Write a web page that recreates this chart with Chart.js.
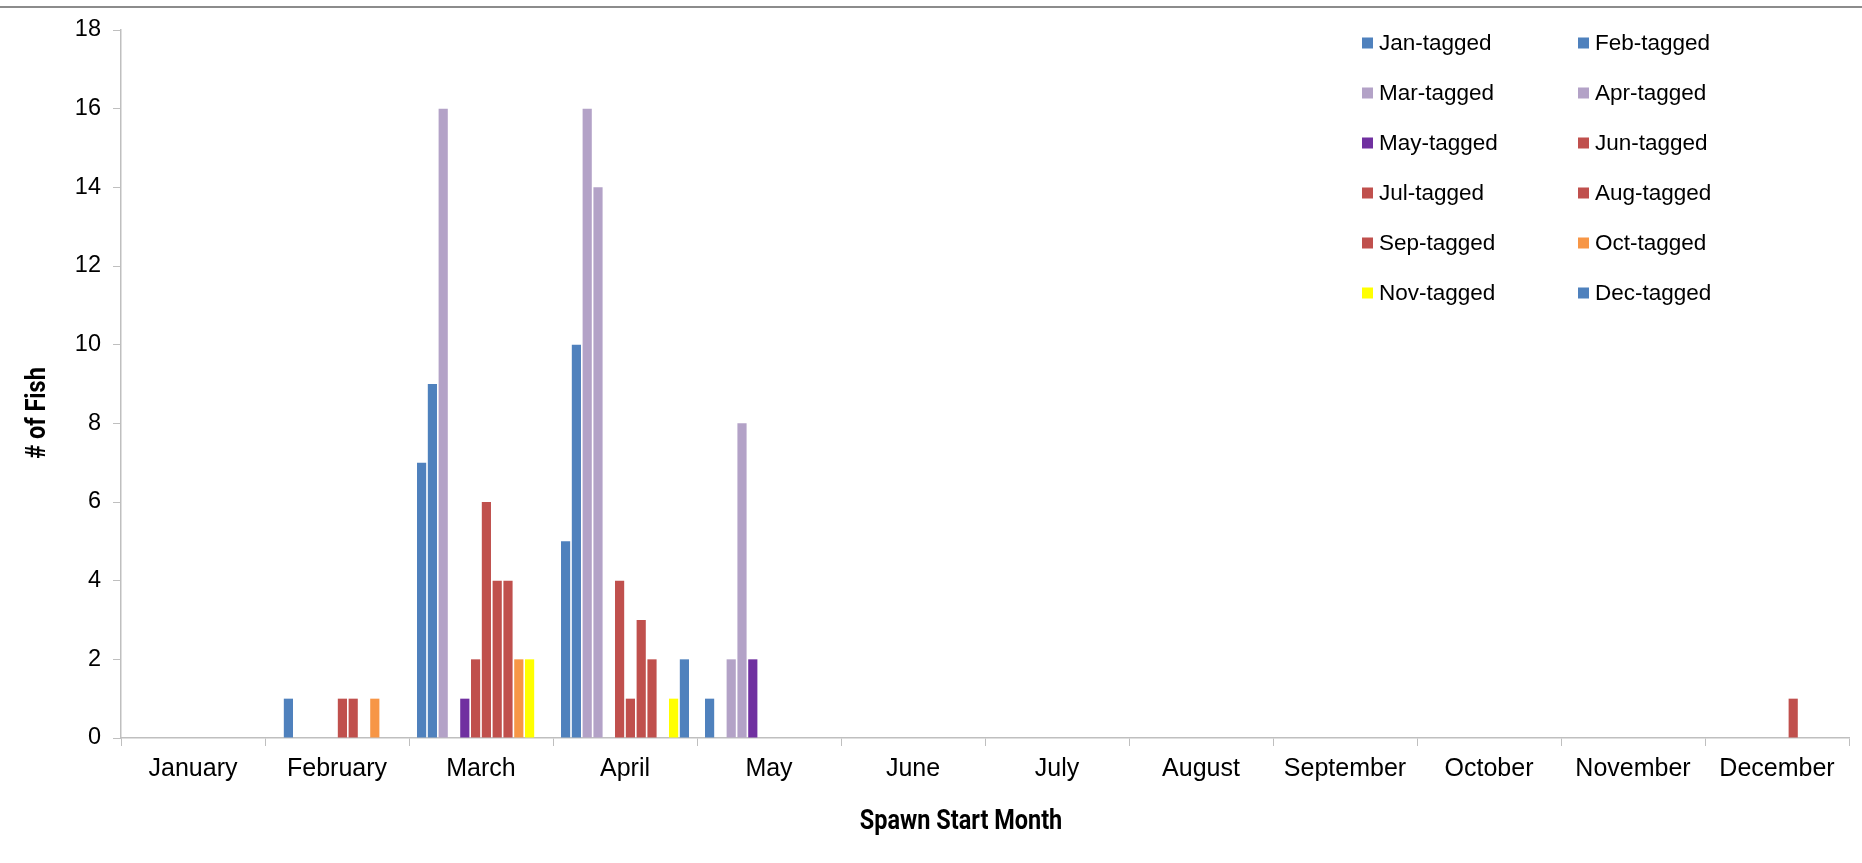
<!DOCTYPE html>
<html>
<head>
<meta charset="utf-8">
<script src="https://cdn.jsdelivr.net/npm/chart.js@4/dist/chart.umd.min.js"></script>
<style>
  html, body { margin: 0; padding: 0; background: #fff; }
  .wrap { position: relative; width: 1862px; height: 863px; }
  .top-rule { position: absolute; left: 0; right: 0; top: 6px; height: 2px; background: #8c8c8c; }
</style>
</head>
<body>
<div class="wrap">
  <div class="top-rule"></div>
  <canvas id="myChart" width="1862" height="863"></canvas>
</div>
<script>
/* global Chart */

// categories (spawn start month)
const months = ['January', 'February', 'March', 'April', 'May', 'June',
  'July', 'August', 'September', 'October', 'November', 'December'];

// series = month the fish was tagged
const janTagged = [0, 0, 7, 5, 1, 0, 0, 0, 0, 0, 0, 0];
const febTagged = [0, 1, 9, 10, 0, 0, 0, 0, 0, 0, 0, 0];
const marTagged = [0, 0, 16, 16, 2, 0, 0, 0, 0, 0, 0, 0];
const aprTagged = [0, 0, 0, 14, 8, 0, 0, 0, 0, 0, 0, 0];
const mayTagged = [0, 0, 1, 0, 2, 0, 0, 0, 0, 0, 0, 0];
const junTagged = [0, 0, 2, 4, 0, 0, 0, 0, 0, 0, 0, 0];
const julTagged = [0, 1, 6, 1, 0, 0, 0, 0, 0, 0, 0, 0];
const augTagged = [0, 1, 4, 3, 0, 0, 0, 0, 0, 0, 0, 1];
const sepTagged = [0, 0, 4, 2, 0, 0, 0, 0, 0, 0, 0, 0];
const octTagged = [0, 1, 2, 0, 0, 0, 0, 0, 0, 0, 0, 0];
const novTagged = [0, 0, 2, 1, 0, 0, 0, 0, 0, 0, 0, 0];
const decTagged = [0, 0, 0, 2, 0, 0, 0, 0, 0, 0, 0, 0];

const seriesLabels = ['Jan-tagged', 'Feb-tagged', 'Mar-tagged', 'Apr-tagged', 'May-tagged', 'Jun-tagged',
  'Jul-tagged', 'Aug-tagged', 'Sep-tagged', 'Oct-tagged', 'Nov-tagged', 'Dec-tagged'];
const seriesValues = [janTagged, febTagged, marTagged, aprTagged, mayTagged, junTagged,
  julTagged, augTagged, sepTagged, octTagged, novTagged, decTagged];

// y axis ticks: 0..18 step 2
const yMin = 0;
const yMax = 18;
const yStep = 2;

const xTitle = 'Spawn Start Month';
const yTitle = '# of Fish';

const BLUE = '#4F81BD';
const LILAC = '#B3A2C7';
const PURPLE = '#7030A0';
const RED = '#C0504D';
const ORANGE = '#F79646';
const YELLOW = '#FFFF00';
const seriesColors = [BLUE, BLUE, LILAC, LILAC, PURPLE, RED, RED, RED, RED, ORANGE, YELLOW, BLUE];

const AXIS_GREY = '#BFBFBF';
const SANS = '"Liberation Sans", Arial, sans-serif';
const TITLE_FONT = 'bold 27px Roboto, "Open Sans", sans-serif';

// narrow bold text, a stand-in for the Calibri titles
function drawNarrow(ctx, text, x, y, angle) {
  ctx.save();
  ctx.translate(x, y);
  ctx.rotate(angle);
  ctx.scale(0.87, 1);
  ctx.fillText(text, 0, 0);
  ctx.restore();
}

// legend in two columns (top right, inside the plot) + axis titles
const gridLegend = {
  id: 'gridLegend',
  afterDraw(chart) {
    const ctx = chart.ctx;
    const colX = [1362, 1578];
    const rowY0 = 43;
    const rowGap = 50;
    ctx.save();
    ctx.font = '22.5px ' + SANS;
    ctx.textBaseline = 'middle';
    chart.data.datasets.forEach(function(ds, i) {
      const x = colX[i % 2];
      const y = rowY0 + Math.floor(i / 2) * rowGap;
      ctx.fillStyle = ds.backgroundColor;
      ctx.fillRect(x, y - 5.5, 11, 11);
      ctx.fillStyle = '#000';
      ctx.fillText(ds.label, x + 17, y + 1);
    });

    // axis titles
    ctx.font = TITLE_FONT;
    ctx.textAlign = 'center';
    drawNarrow(ctx, xTitle, 961, 822, 0);
    drawNarrow(ctx, yTitle, 38, 413, -Math.PI / 2);
    ctx.restore();
  }
};

const ctx = document.getElementById('myChart').getContext('2d');

// eslint-disable-next-line no-unused-vars
const chart = new Chart(ctx, {
  type: 'bar',
  data: {
    labels: months,
    datasets: seriesLabels.map(function(label, i) {
      return {
        label: label,
        data: seriesValues[i],
        backgroundColor: seriesColors[i],
        borderWidth: 0,
        categoryPercentage: 0.9,
        barPercentage: 0.85,
      };
    }),
  },
  options: {
    responsive: false,
    animation: false,
    layout: { padding: { top: 30, right: 13, left: 0, bottom: 0 } },
    plugins: {
      legend: { display: false },
      tooltip: { enabled: false },
    },
    scales: {
      x: {
        grid: { display: true, offset: true, drawOnChartArea: false, drawTicks: true, tickLength: 8, color: AXIS_GREY },
        border: { display: true, color: AXIS_GREY, width: 1.5 },
        ticks: { color: '#000', font: { family: SANS, size: 25 }, padding: 8, maxRotation: 0 },
        afterFit: function(scale) { scale.height = 125; },
      },
      y: {
        min: yMin,
        max: yMax,
        grid: { display: true, drawOnChartArea: false, drawTicks: true, tickLength: 8, color: AXIS_GREY },
        border: { display: true, color: AXIS_GREY, width: 1.5 },
        ticks: { stepSize: yStep, color: '#000', font: { family: SANS, size: 23.5 }, padding: 12 },
        afterFit: function(scale) { scale.width = 121; },
      },
    },
  },
  plugins: [gridLegend],
});
</script>
</body>
</html>
